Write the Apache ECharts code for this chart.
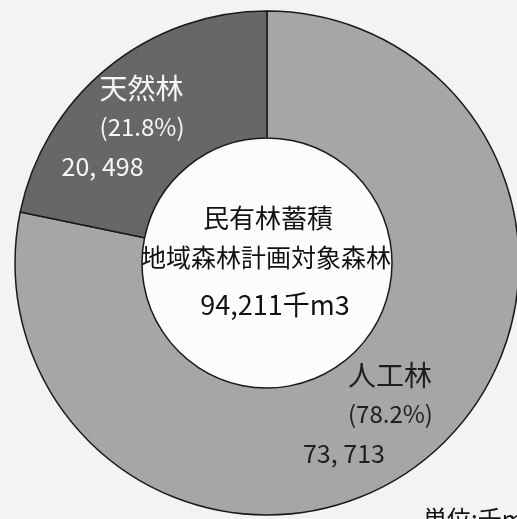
<!DOCTYPE html>
<html>
<head>
<meta charset="utf-8">
<script src="https://cdn.jsdelivr.net/npm/echarts@6/dist/echarts.min.js"></script>
<style>
  html, body { margin: 0; padding: 0; background: #f3f3f1; }
  #pieChart { width: 517px; height: 519px; }
</style>
</head>
<body>
<div id="pieChart"></div>
<script>
var categories = ['人工林', '天然林'];
var volumes = [73713, 20498];
var shares = ['78.2%', '21.8%'];
var volumeText = ['73, 713', '20, 498'];
var centerLines = ['民有林蓄積', '地域森林計画対象森林'];
var totalText = '94,211千m3';
var unitText = '単位:千m3';

var font = '"Noto Sans CJK JP", "Noto Sans", sans-serif';
var sliceColors = ['#a6a6a6', '#676767'];
var labelColors = ['#1e1e1e', '#f6f6f6'];
// label tweaks per slice (offset, left indent for name / percent lines)
var labelOffsets = [[-20, 4], [-23, 14]];
var labelIndent = [45, 38];

var pieData = categories.map(function (name, i) {
  return {
    name: name,
    value: volumes[i],
    itemStyle: { color: sliceColors[i] },
    label: {
      offset: labelOffsets[i],
      rich: {
        n: { fontSize: 28, color: labelColors[i], align: 'left', padding: [0, 0, 0, labelIndent[i]], lineHeight: 38, fontFamily: font },
        p: { fontSize: 24, color: labelColors[i], align: 'left', padding: [0, 0, 0, labelIndent[i]], lineHeight: 38, fontFamily: font },
        v: { fontSize: 25, color: labelColors[i], align: 'left', lineHeight: 42, fontFamily: font }
      }
    }
  };
});

var myChart = echarts.init(document.getElementById('pieChart'));
var option = {
  backgroundColor: '#f3f3f1',
  animation: false,
  graphic: [
    {
      type: 'circle',
      shape: { cx: 268, cy: 264, r: 125 },
      style: { fill: '#fcfcfc' },
      z: -1
    },
    {
      type: 'text',
      x: 268, y: 218,
      style: { text: centerLines[0], font: '26px ' + font, fill: '#111', align: 'center', verticalAlign: 'middle' },
      z: 10
    },
    {
      type: 'text',
      x: 266, y: 257,
      style: { text: centerLines[1], font: '25px ' + font, fill: '#111', align: 'center', verticalAlign: 'middle' },
      z: 10
    },
    {
      type: 'text',
      x: 275, y: 305,
      style: { text: totalText, font: '27px ' + font, fill: '#111', align: 'center', verticalAlign: 'middle' },
      z: 10
    },
    {
      type: 'text',
      x: 423, y: 507,
      style: { text: unitText, font: '24px ' + font, fill: '#111', align: 'left', verticalAlign: 'top' },
      z: 10
    }
  ],
  series: [
    {
      type: 'pie',
      center: [267, 263],
      radius: [125, 252],
      startAngle: 90,
      clockwise: true,
      avoidLabelOverlap: false,
      itemStyle: { borderColor: '#1a1a1a', borderWidth: 1.5 },
      emphasis: { disabled: true },
      label: {
        show: true,
        position: 'inside',
        formatter: function (p) {
          var i = p.dataIndex;
          return '{n|' + p.name + '}\n{p|(' + shares[i] + ')}\n{v|' + volumeText[i] + '}';
        }
      },
      labelLine: { show: false },
      data: pieData
    }
  ]
};
myChart.setOption(option);
window.onresize = function () {
  myChart.resize();
};
</script>
</body>
</html>
